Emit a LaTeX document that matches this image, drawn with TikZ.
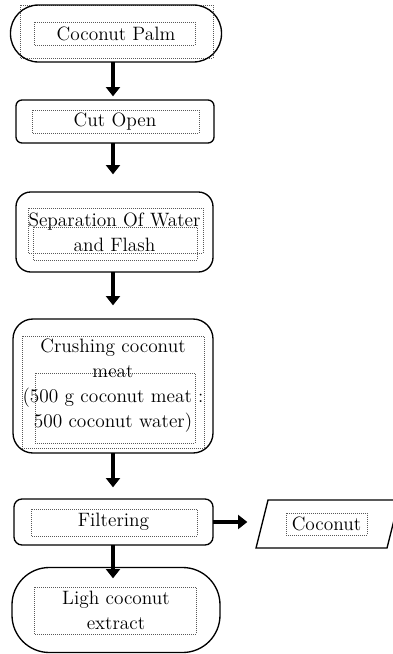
\documentclass[tikz,border=0pt]{standalone}
\usepackage{tikz}
\usetikzlibrary{arrows.meta}
\begin{document}
\begin{tikzpicture}[x=0.75pt, y=-0.75pt,
    stage/.style={draw, line width=1pt, inner sep=0pt, outer sep=0pt, align=center, font=\fontsize{14.5}{18.75}\selectfont},
    txtframe/.style={draw=black!65, densely dotted, line width=0.5pt},
    flow/.style={line width=3.4pt, -{Triangle[width=10.5pt, length=7pt]}, shorten >=2pt}]
    \clip (0,0) rectangle (393,654);
    \draw[txtframe] (20,5) rectangle (213,58);
    \draw[txtframe] (34,22) rectangle (195,45);
    \draw[txtframe] (32,110) rectangle (199,133);
    \draw[txtframe] (28,208) rectangle (203,253);
    \draw[txtframe] (33,227) rectangle (197,260);
    \draw[txtframe] (22,336) rectangle (204,448);
    \draw[txtframe] (35,373) rectangle (195,443);
    \draw[txtframe] (31,509) rectangle (197,536);
    \draw[txtframe] (286,513) rectangle (367,535);
    \draw[txtframe] (34,587) rectangle (196,634);
    \node[stage, minimum width=158.25pt, minimum height=42.75pt, rounded corners=21pt] (palm) at (116,33.5) {Coconut Palm};
    \node[stage, minimum width=148.5pt, minimum height=32.25pt, rounded corners=4.5pt] (cut) at (115,121.5) {Cut Open};
    \node[stage, minimum width=147.75pt, minimum height=60pt, rounded corners=11pt] (sep) at (114.5,232) {Separation Of Water\\ and Flash};
    \node[stage, minimum width=150pt, minimum height=100.5pt, rounded corners=15pt] (crush) at (113,386) {Crushing coconut\\ meat\\ (500 g coconut meat :\\ 500 coconut water)};
    \node[stage, minimum width=149.25pt, minimum height=34.5pt, rounded corners=6pt] (filt) at (113.5,522) {Filtering};
    \node[stage, minimum width=156pt, minimum height=63.75pt, rounded corners=28pt] (extr) at (116,610) {Ligh coconut\\ extract};
    \draw[line width=1pt] (256,548) -- (268,500) -- (399,500) -- (387,548) -- cycle;
    \node[stage, draw=none] (coco) at (326.5,524) {Coconut};
    \coordinate (cocoin) at (250,522);
    \draw[flow] (113,62) -- (113,99);
    \draw[flow] (cut.south -| 113,0) -- (113,177);
    \draw[flow] (sep.south -| 113,0) -- (113,308);
    \draw[flow] (crush.south) -- (113,490);
    \draw[flow] (filt.south -| 113,0) -- (113,581);
    \draw[flow] (filt.east) -- (cocoin);
\end{tikzpicture}
\end{document}
